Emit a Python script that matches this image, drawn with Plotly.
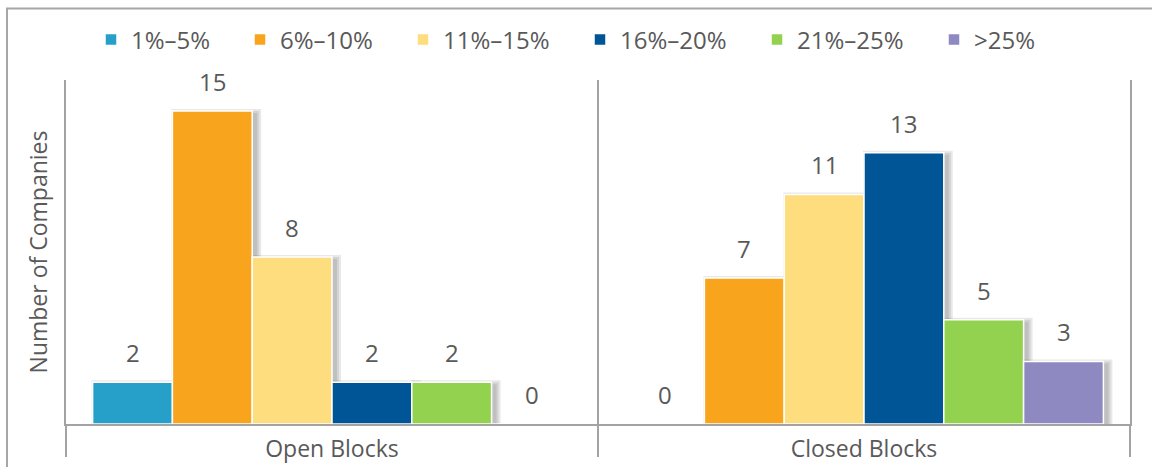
import plotly.graph_objects as go

# Data
categories = ["Open Blocks", "Closed Blocks"]
series_names = ["1%–5%", "6%–10%", "11%–15%", "16%–20%", "21%–25%", ">25%"]
values_1_5 = [2, 0]
values_6_10 = [15, 7]
values_11_15 = [8, 11]
values_16_20 = [2, 13]
values_21_25 = [2, 5]
values_gt25 = [0, 3]
series_values = [values_1_5, values_6_10, values_11_15, values_16_20, values_21_25, values_gt25]
colors = ["#26a0c9", "#f8a51d", "#fddd7d", "#005596", "#93d24f", "#8f89c1"]

# Layout geometry (pixels)
W, H = 1152, 467
ML, MR, MT, MB = 66, 22, 80, 43
PLOT_W = W - ML - MR
PLOT_H = H - MT - MB
Y_MAX = 16.48
TEXT = "#595959"
LINE = "#a3a3a3"
FONT = "Open Sans"

n = len(series_names)
group_w = 0.9
bar_w = group_w / n
x_idx = list(range(len(categories)))
px_per_x = PLOT_W / 2.0
px_per_y = PLOT_H / Y_MAX


def paper_x(px):
    return (px - ML) / PLOT_W


def paper_y(py):
    return (H - MB - py) / PLOT_H


fig = go.Figure()

# Soft drop shadow behind each bar (a few stacked translucent layers)
for i, vals in enumerate(series_values):
    for spread in [1.0, 3.0, 5.0]:
        ex = spread / px_per_x
        ey = spread / px_per_y
        dx = 4.0 / px_per_x
        dy = 3.0 / px_per_y
        fig.add_trace(go.Bar(
            x=x_idx,
            y=[(v + 2 * ey) if v > 0 else 0 for v in vals],
            base=[-ey - dy if v > 0 else 0 for v in vals],
            offset=-group_w / 2 + i * bar_w + dx - ex,
            width=bar_w + 2 * ex,
            marker=dict(color="rgba(0,0,0,0.09)", line=dict(width=0)),
            showlegend=False,
            hoverinfo="skip",
        ))

# Main bars, one legend per series so each entry sits where it belongs
legend_px = [107, 256, 419, 596, 773, 950]
for i, (name, vals, col) in enumerate(zip(series_names, series_values, colors)):
    fig.add_trace(go.Bar(
        x=x_idx,
        y=vals,
        name=name,
        offset=-group_w / 2 + i * bar_w,
        width=bar_w,
        marker=dict(color=col, line=dict(color="white", width=1.5)),
        legend="legend" if i == 0 else f"legend{i + 1}",
    ))

# Value labels above each bar
annotations = []
for i, vals in enumerate(series_values):
    for j, v in enumerate(vals):
        annotations.append(dict(
            x=x_idx[j] - group_w / 2 + (i + 0.5) * bar_w,
            y=v,
            xref="x", yref="y",
            text=str(v),
            showarrow=False,
            yanchor="bottom",
            yshift=11,
            font=dict(family=FONT, size=24, color=TEXT),
        ))

legend_layout = {}
for i, px in enumerate(legend_px):
    key = "legend" if i == 0 else f"legend{i + 1}"
    legend_layout[key] = dict(
        x=paper_x(px - 16), xanchor="left",
        y=paper_y(40), yanchor="middle",
        orientation="h",
        font=dict(family=FONT, size=24, color=TEXT),
        bgcolor="rgba(0,0,0,0)",
        itemclick=False, itemdoubleclick=False,
    )

fig.update_layout(
    width=W, height=H,
    margin=dict(l=ML, r=MR, t=MT, b=MB, autoexpand=False),
    paper_bgcolor="white",
    plot_bgcolor="white",
    barmode="overlay",
    font=dict(family=FONT, color=TEXT),
    annotations=annotations,
    shapes=[dict(
        type="rect", xref="paper", yref="paper",
        x0=paper_x(7), x1=paper_x(1165), y0=paper_y(475), y1=paper_y(8.5),
        line=dict(color="#a6a6a6", width=2), fillcolor="rgba(0,0,0,0)",
        layer="below",
    )],
    xaxis=dict(
        range=[-0.5, 1.5],
        tickvals=x_idx,
        ticktext=categories,
        ticks="outside", ticklen=3, tickcolor="rgba(0,0,0,0)",
        tickfont=dict(family=FONT, size=23, color=TEXT),
        showline=True, linecolor=LINE, linewidth=2,
        showgrid=False, zeroline=False,
        minor=dict(
            tickvals=[-0.5, 0.5, 1.5],
            ticks="outside", ticklen=31, tickwidth=2, tickcolor=LINE,
            showgrid=True, gridcolor=LINE, gridwidth=2,
        ),
        fixedrange=True,
    ),
    yaxis=dict(
        range=[0, Y_MAX],
        showticklabels=False, ticks="",
        showgrid=False, zeroline=False,
        showline=True, mirror=True, linecolor=LINE, linewidth=2,
        title=dict(text="Number of Companies", standoff=10,
                   font=dict(family=FONT, size=23, color=TEXT)),
        fixedrange=True,
    ),
    **legend_layout,
)

fig.write_html("out.html")
